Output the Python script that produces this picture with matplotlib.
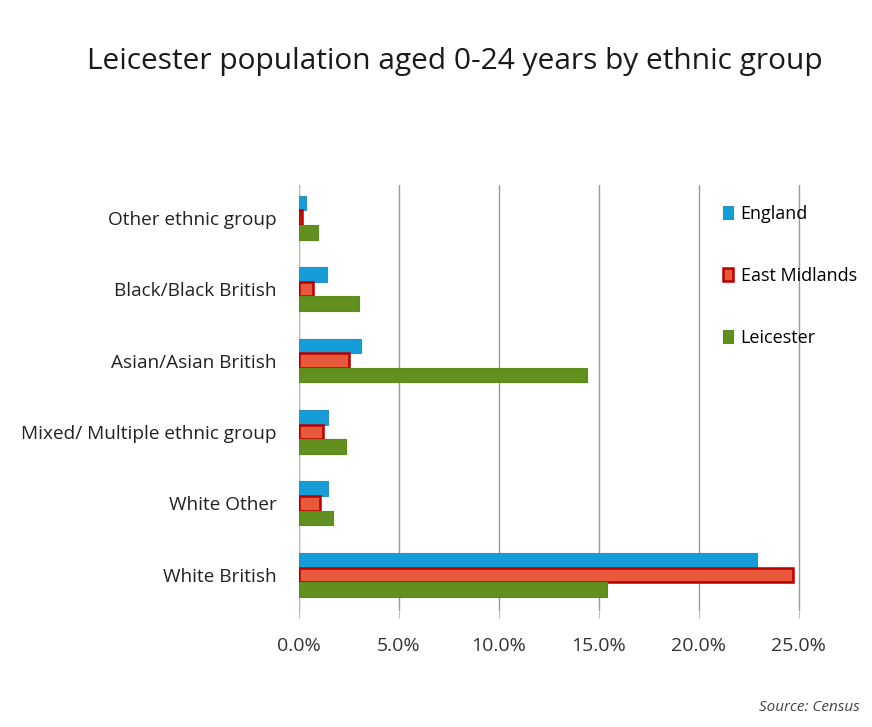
import numpy as np
import matplotlib.pyplot as plt
from matplotlib.ticker import PercentFormatter

plt.rcParams['font.family'] = ['Open Sans', 'DejaVu Sans']

# ---------- data (share of population aged 0-24, %) ----------
categories = ["White British", "White Other", "Mixed/ Multiple ethnic group",
              "Asian/Asian British", "Black/Black British", "Other ethnic group"]
england = [22.9, 1.45, 1.45, 3.1, 1.4, 0.35]
east_midlands = [24.7, 1.05, 1.2, 2.5, 0.7, 0.15]
leicester = [15.4, 1.7, 2.35, 14.4, 3.0, 0.95]
x_ticks = [0, 5, 10, 15, 20, 25]

fig = plt.figure(figsize=(8.72, 7.27), dpi=100)
ax = fig.add_axes([0.343, 0.16, 0.58, 0.585])

y = np.arange(len(categories))
h = 0.205
ax.barh(y + h, england, height=h, color="#159dd8", edgecolor="#2f8fc0", linewidth=0.8,
        label="England", zorder=3)
ax.barh(y, east_midlands, height=h, color="#e8583a", edgecolor="#b80000", linewidth=1.8,
        label="East Midlands", zorder=3)
ax.barh(y - h, leicester, height=h, color="#62901e", edgecolor="#5a8a1a", linewidth=0.8,
        label="Leicester", zorder=3)

ax.set_yticks(y)
ax.set_yticklabels(categories, fontsize=13.7, color="#222222")
ax.set_xticks(x_ticks)
ax.xaxis.set_major_formatter(PercentFormatter(decimals=1))
ax.set_xlim(0, 25.3)
ax.set_ylim(-0.5, 5.45)
ax.tick_params(axis="x", labelsize=14, labelcolor="#333333", length=5, color="#bbbbbb", pad=14)
ax.tick_params(axis="y", length=0, pad=16)
ax.grid(axis="x", color="#9a9a9a", linewidth=1.0, zorder=0)
for s in ["top", "right", "bottom"]:
    ax.spines[s].set_visible(False)
ax.spines["left"].set_color("#bbbbbb")

fig.text(0.522, 0.915, "Leicester population aged 0-24 years by ethnic group",
         fontsize=21.5, ha="center", va="center", color="#1a1a1a")

leg = fig.legend(loc="upper left", bbox_to_anchor=(0.81, 0.741), frameon=False,
                 fontsize=13, handlelength=0.6, handleheight=0.7, handletextpad=0.4,
                 labelspacing=2.45)

fig.text(0.87, 0.027, "Source: Census", fontsize=11, style="italic", color="#444444",
         ha="left", va="center")

fig.savefig("out.png", dpi=100, facecolor="white")
